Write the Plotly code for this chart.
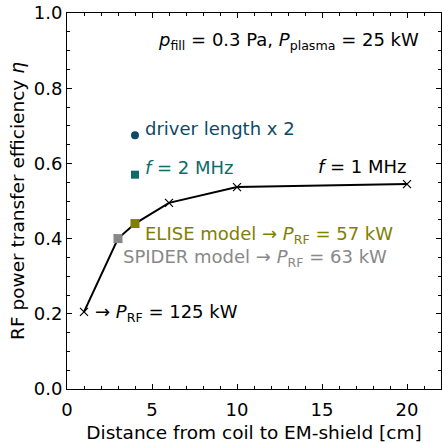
import plotly.graph_objects as go

# data
dist_1mhz = [1, 3, 4, 6, 10, 20]
eta_1mhz = [0.205, 0.40, 0.44, 0.495, 0.537, 0.545]
spider_x, spider_y = [3], [0.40]
elise_x, elise_y = [4], [0.44]
f2_x, f2_y = [4], [0.57]
driver_x, driver_y = [4], [0.675]

FONT = "DejaVu Sans"
C_DRIVER = "#0d4a66"
C_F2 = "#0e6b6b"
C_ELISE = "#808000"
C_SPIDER = "#888888"

fig = go.Figure()
fig.add_trace(go.Scatter(x=dist_1mhz, y=eta_1mhz, mode="lines+markers",
                         line=dict(color="black", width=2),
                         marker=dict(symbol="x-thin", size=8, color="black",
                                     line=dict(width=1.2, color="black")),
                         showlegend=False))
fig.add_trace(go.Scatter(x=spider_x, y=spider_y, mode="markers",
                         marker=dict(symbol="square", size=9, color=C_SPIDER), showlegend=False))
fig.add_trace(go.Scatter(x=elise_x, y=elise_y, mode="markers",
                         marker=dict(symbol="square", size=9, color=C_ELISE), showlegend=False))
fig.add_trace(go.Scatter(x=f2_x, y=f2_y, mode="markers",
                         marker=dict(symbol="square", size=8, color=C_F2), showlegend=False))
fig.add_trace(go.Scatter(x=driver_x, y=driver_y, mode="markers",
                         marker=dict(symbol="circle", size=8, color=C_DRIVER), showlegend=False))

def ann(x, y, text, color, anchor="left", size=18):
    fig.add_annotation(x=x, y=y, xref="x", yref="y", text=text, showarrow=False,
                       xanchor=anchor, yanchor="middle",
                       font=dict(family=FONT, size=size, color=color))

ann(20.8, 0.925, "<i>p</i><sub>fill</sub> = 0.3 Pa, <i>P</i><sub>plasma</sub> = 25 kW", "black", "right")
ann(4.45, 0.694, "driver length x 2", C_DRIVER)
ann(4.45, 0.588, "<i>f</i> = 2 MHz", C_F2)
ann(20.1, 0.593, "<i>f</i> = 1 MHz", "black", "right")
ann(4.45, 0.41, "ELISE model → <i>P</i><sub>RF</sub> = 57 kW", C_ELISE)
ann(3.2, 0.348, "SPIDER model → <i>P</i><sub>RF</sub> = 63 kW", C_SPIDER)
ann(1.5, 0.202, "→ <i>P</i><sub>RF</sub> = 125 kW", "black")

axis_common = dict(showline=True, linecolor="black", linewidth=1, mirror="allticks",
                   ticks="inside", ticklen=5, tickwidth=1, tickcolor="black",
                   showgrid=False, zeroline=False, automargin=False,
                   tickfont=dict(family=FONT, size=18, color="black"))
fig.update_xaxes(range=[0, 22], dtick=5, tick0=0, ticklabelstandoff=4,
                 minor=dict(ticks="inside", dtick=1, ticklen=3, tickcolor="black"),
                 title=dict(text="Distance from coil to EM-shield [cm]",
                            font=dict(family=FONT, size=18.5, color="black"), standoff=8),
                 **axis_common)
fig.update_yaxes(range=[0, 1], dtick=0.2, tick0=0, tickformat=".1f",
                 minor=dict(ticks="inside", dtick=0.05, ticklen=3, tickcolor="black"),
                 title=dict(text="RF power transfer efficiency <i>η</i>",
                            font=dict(family=FONT, size=18.5, color="black"), standoff=4),
                 **axis_common)
fig.update_layout(width=442, height=443, margin=dict(l=67, r=1, t=13, b=54),
                  plot_bgcolor="white", paper_bgcolor="white")
fig.write_html("out.html", config={"displayModeBar": False},
               post_script="document.body.style.margin='0';")
